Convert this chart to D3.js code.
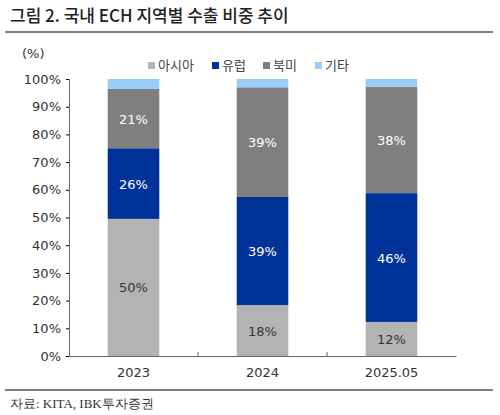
<!DOCTYPE html>
<html><head><meta charset="utf-8">
<script src="https://cdn.jsdelivr.net/npm/d3@7"></script>
<style>body{margin:0;background:#fff} text{font-family:"DejaVu Sans","Noto Sans CJK KR",sans-serif}</style>
</head><body><div id="chart"></div>
<script>
var years = ["2023", "2024", "2025.05"];
var series = ["아시아", "유럽", "북미", "기타"];
var asia = [49.5, 18.4, 12.3];
var europe = [25.5, 39, 46.5];
var northAmerica = [21.4, 39.6, 38.3];
var other = [3.6, 3, 2.9];
var labels = [["50%", "18%", "12%"], ["26%", "39%", "46%"], ["21%", "39%", "38%"]];
var yTicks = [0, 10, 20, 30, 40, 50, 60, 70, 80, 90, 100];
var colors = ["#b3b3b3", "#003399", "#7f7f7f", "#99ccf9"];
var labelColors = ["#333", "#fff", "#fff"];

var svg = d3.select("#chart").append("svg").attr("width", 500).attr("height", 415);

svg.append("text").attr("x", 10).attr("y", 22).attr("font-size", 17).attr("fill", "#222")
   .style("font-family", "'Noto Sans CJK KR',sans-serif").attr("font-weight", 500)
   .text("그림 2. 국내 ECH 지역별 수출 비중 추이");
svg.append("line").attr("x1", 5).attr("x2", 493).attr("y1", 32).attr("y2", 32).attr("stroke", "#555").attr("stroke-width", 1.5);
svg.append("line").attr("x1", 5).attr("x2", 493).attr("y1", 390).attr("y2", 390).attr("stroke", "#555").attr("stroke-width", 1.5);
svg.append("text").attr("x", 10).attr("y", 408).attr("font-size", 13).attr("fill", "#333")
   .style("font-family", "'Liberation Serif',serif").text("자료: KITA, IBK투자증권");

var x = d3.scaleBand().domain(years).range([69, 456]).paddingInner(0.6).paddingOuter(0.3);
var y = d3.scaleLinear().domain([0, 100]).range([356, 79]);

var rows = years.map(function(yr, i) {
   return {year: yr, "아시아": asia[i], "유럽": europe[i], "북미": northAmerica[i], "기타": other[i]};
});
var stacked = d3.stack().keys(series)(rows);

svg.selectAll("g.layer").data(stacked).enter().append("g").attr("fill", function(d, i) { return colors[i]; })
   .selectAll("rect").data(function(d) { return d; }).enter().append("rect")
   .attr("x", function(d) { return x(d.data.year); })
   .attr("width", x.bandwidth())
   .attr("y", function(d) { return y(d[1]); })
   .attr("height", function(d) { return y(d[0]) - y(d[1]); });

stacked.slice(0, 3).forEach(function(layer, k) {
   layer.forEach(function(d, i) {
      svg.append("text").attr("x", x(d.data.year) + x.bandwidth() / 2).attr("y", y((d[0] + d[1]) / 2) + 5)
         .attr("text-anchor", "middle").attr("font-size", 13).attr("fill", labelColors[k]).text(labels[k][i]);
   });
});

var ya = svg.append("g").attr("transform", "translate(69,0)")
   .call(d3.axisLeft(y).tickValues(yTicks).tickSize(3).tickFormat(function(d) { return d + "%"; }));
ya.select(".domain").attr("stroke", "#666");
ya.selectAll("text").attr("font-size", 13).attr("fill", "#333").attr("x", -8);
var xa = svg.append("g").attr("transform", "translate(0,356)")
   .call(d3.axisBottom(x).tickSize(0).tickPadding(12));
xa.select(".domain").attr("stroke", "#666");
xa.selectAll("text").attr("font-size", 13).attr("fill", "#333");
[1, 2].forEach(function(i) {
   var xp = (x(years[i - 1]) + x.bandwidth() + x(years[i])) / 2;
   svg.append("line").attr("x1", xp).attr("x2", xp).attr("y1", 356).attr("y2", 352).attr("stroke", "#666");
});

svg.append("text").attr("x", 22).attr("y", 58).attr("font-size", 13).attr("fill", "#333").text("(%)");

var lg = svg.append("g");
var lx = [148, 212, 263, 315];
series.forEach(function(s, i) {
   lg.append("rect").attr("x", lx[i]).attr("y", 62).attr("width", 7).attr("height", 7).attr("fill", colors[i]);
   lg.append("text").attr("x", lx[i] + 10).attr("y", 70).attr("font-size", 13).attr("fill", "#444").text(s);
});
</script></body></html>
